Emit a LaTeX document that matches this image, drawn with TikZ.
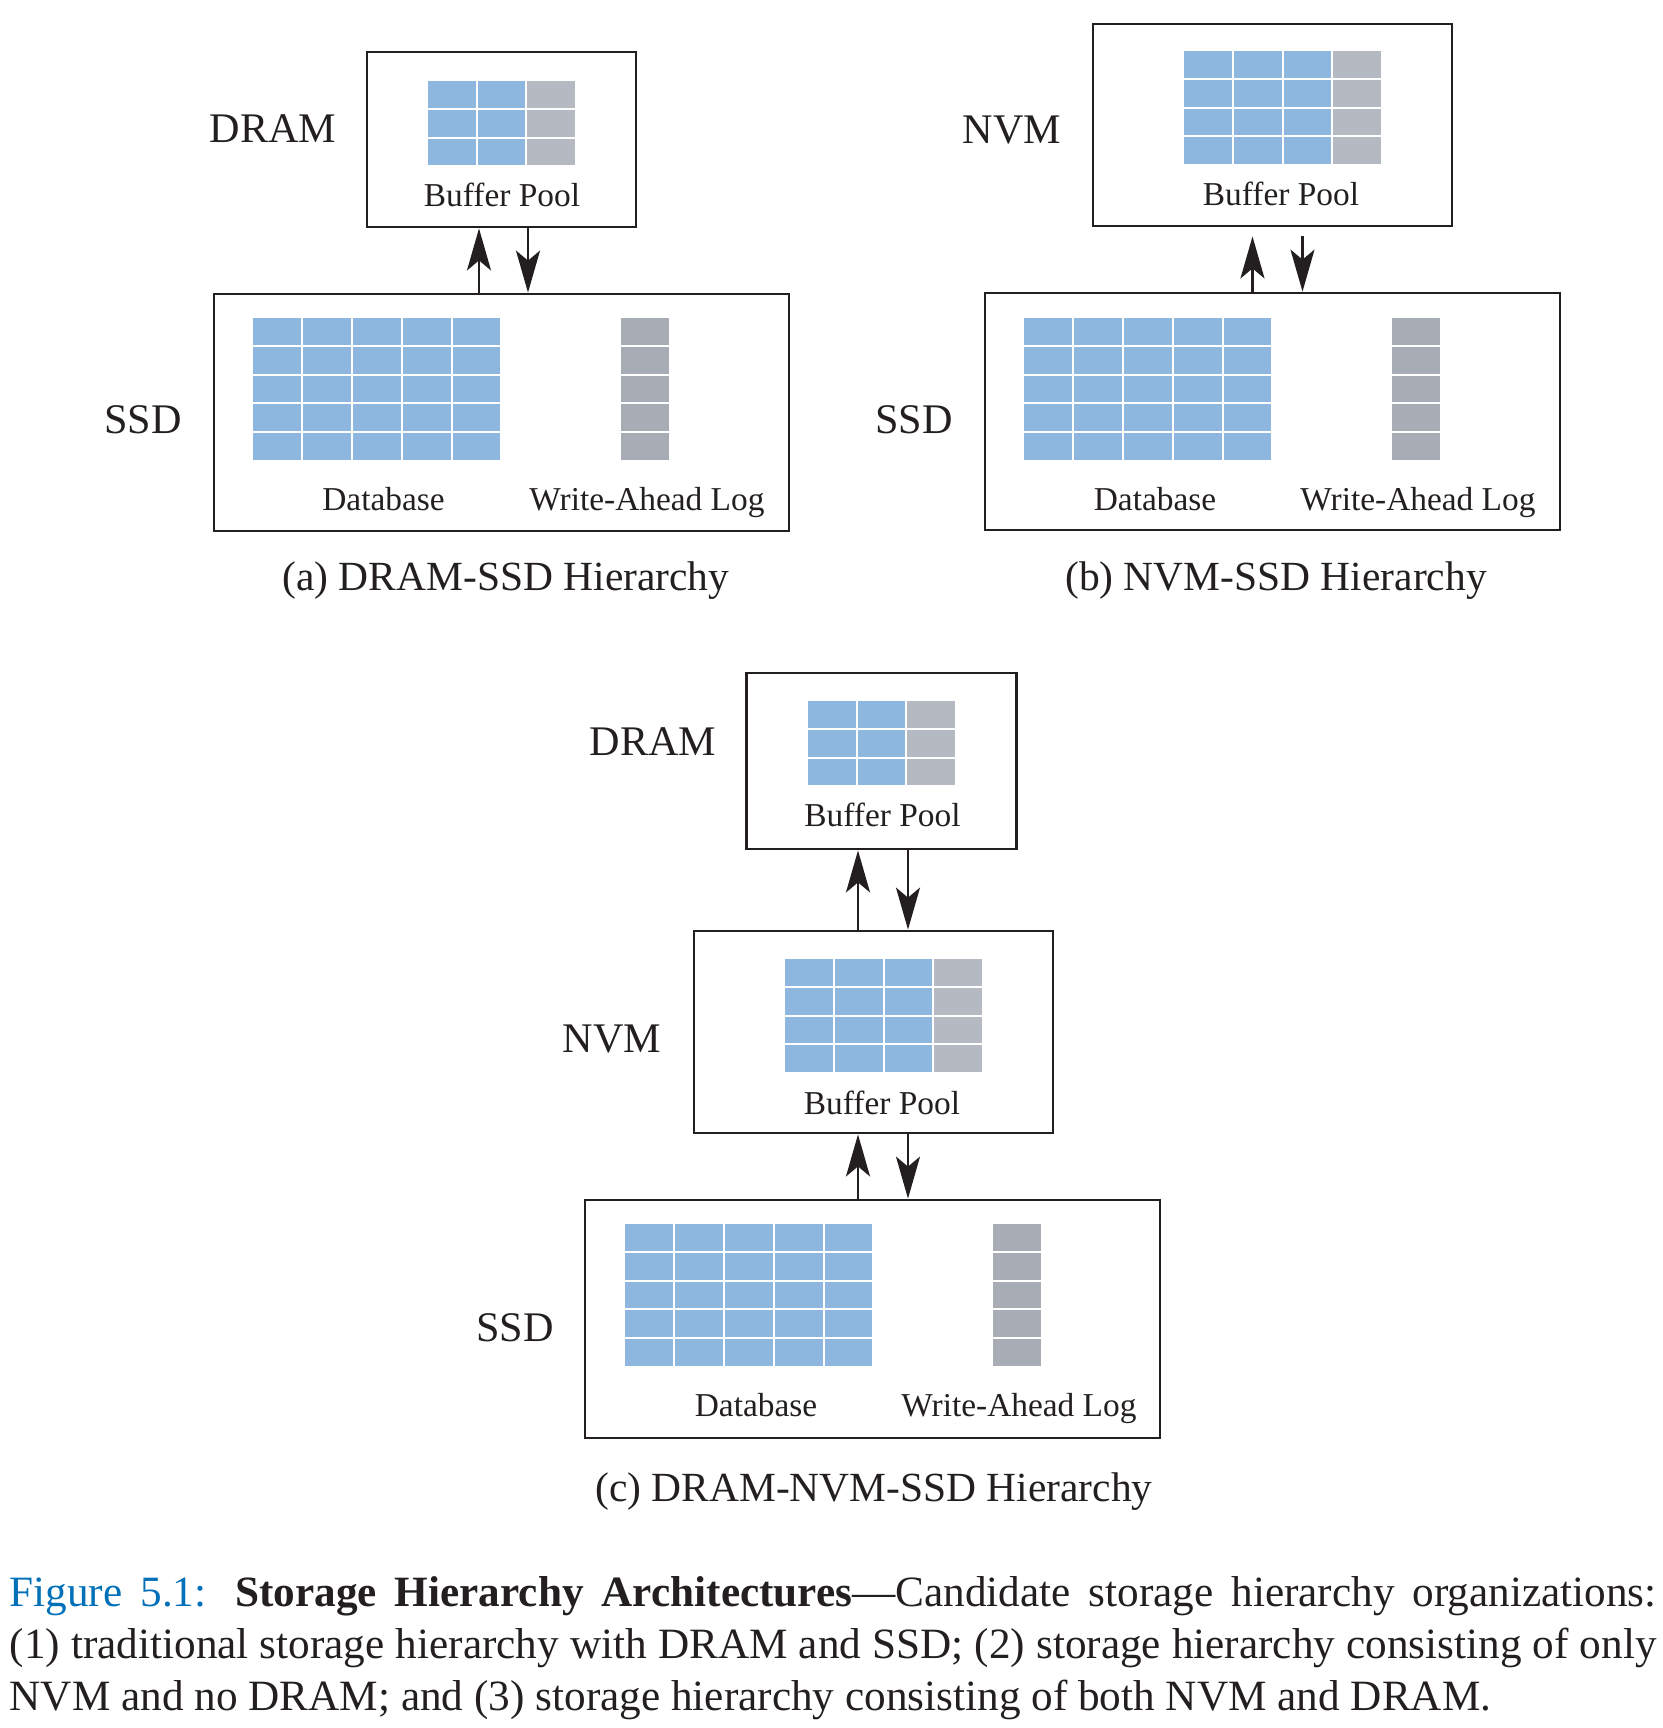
\documentclass[tikz,border=0pt]{standalone}
\usepackage{fontspec}
\setmainfont{Liberation Serif}
\usetikzlibrary{arrows.meta}
\definecolor{hbink}{RGB}{35,31,32}
\definecolor{hbblue}{RGB}{141,183,223}
\definecolor{hbgray}{RGB}{181,186,194}
\definecolor{hbdark}{RGB}{168,172,180}
\definecolor{hbcap}{RGB}{0,112,184}

\begin{document}
\begin{tikzpicture}[
        box/.style={draw=hbink, line width=0.8pt, inner sep=0pt},
        level/.style={font=\fontsize{12}{14}\selectfont, text=hbink, anchor=base, inner sep=0pt},
        part/.style={font=\fontsize{9.5}{11}\selectfont, text=hbink, anchor=base, inner sep=0pt},
        sub/.style={font=\fontsize{11.8}{14}\selectfont, text=hbink, anchor=base, inner sep=0pt},
        cell/.style={draw=white, line width=0.6pt},
        flow/.style={-{Stealth[length=4.2mm, width=2.4mm, inset=1mm]}, line width=0.65pt, draw=hbink}
      ]
      \useasboundingbox (0,0) rectangle (16.63,-17.28);

      % (a) DRAM over SSD
      \node[box, minimum width=2.69cm, minimum height=1.75cm] (dramA) at (5.015,-1.395) {};
      \node[box, minimum width=5.75cm, minimum height=2.37cm] (ssdA) at (5.015,-4.125) {};
      \node[level] (lblDramA) at (2.73,-1.42) {DRAM};
      \node[level] (lblSsdA) at (1.43,-4.33) {SSD};
      \node[part] (bpA) at (5.02,-2.06) {Buffer Pool};
      \node[part] (dbA) at (3.835,-5.10) {Database};
      \node[part] (walA) at (6.47,-5.10) {Write-Ahead Log};
      \node[sub] (capA) at (5.06,-5.90) {(a) DRAM-SSD Hierarchy};
      \coordinate (upA) at ([xshift=-0.225cm]dramA.south);
      \coordinate (dnA) at ([xshift=0.265cm]dramA.south);
      \draw[flow] (upA |- ssdA.north) -- (upA);
      \draw[flow] (dnA) -- (dnA |- ssdA.north);

      % (b) NVM over SSD
      \node[box, minimum width=3.59cm, minimum height=2.02cm] (nvmB) at (12.725,-1.25) {};
      \node[box, minimum width=5.75cm, minimum height=2.37cm] (ssdB) at (12.725,-4.115) {};
      \node[level] (lblNvmB) at (10.12,-1.43) {NVM};
      \node[level] (lblSsdB) at (9.14,-4.33) {SSD};
      \node[part] (bpB) at (12.81,-2.057) {Buffer Pool};
      \node[part] (dbB) at (11.55,-5.10) {Database};
      \node[part] (walB) at (14.18,-5.10) {Write-Ahead Log};
      \node[sub] (capB) at (12.76,-5.90) {(b) NVM-SSD Hierarchy};
      \coordinate (upB) at ([xshift=-0.20cm, yshift=-0.09cm]nvmB.south);
      \coordinate (dnB) at ([xshift=0.30cm, yshift=-0.09cm]nvmB.south);
      \draw[flow] (upB |- ssdB.north) -- (upB);
      \draw[flow] (dnB) -- (dnB |- ssdB.north);

      % (c) DRAM over NVM over SSD
      \node[box, minimum width=2.70cm, minimum height=1.76cm] (dramC) at (8.815,-7.61) {};
      \node[box, minimum width=3.59cm, minimum height=2.02cm] (nvmC) at (8.735,-10.32) {};
      \node[box, minimum width=5.75cm, minimum height=2.38cm] (ssdC) at (8.725,-13.19) {};
      \node[level] (lblDramC) at (6.53,-7.55) {DRAM};
      \node[level] (lblNvmC) at (6.12,-10.52) {NVM};
      \node[level] (lblSsdC) at (5.15,-13.41) {SSD};
      \node[part] (bpC) at (8.825,-8.26) {Buffer Pool};
      \node[part] (bpD) at (8.82,-11.145) {Buffer Pool};
      \node[part] (dbC) at (7.56,-14.16) {Database};
      \node[part] (walC) at (10.19,-14.16) {Write-Ahead Log};
      \node[sub] (capC) at (8.74,-15.01) {(c) DRAM-NVM-SSD Hierarchy};
      \coordinate (upC) at ([xshift=-0.235cm]dramC.south);
      \coordinate (dnC) at ([xshift=0.265cm]dramC.south);
      \draw[flow] (upC |- nvmC.north) -- (upC);
      \draw[flow] (dnC) -- (dnC |- nvmC.north);
      \draw[flow] (upC |- ssdC.north) -- (upC |- nvmC.south);
      \draw[flow] (dnC |- nvmC.south) -- (dnC |- ssdC.north);

      % page grids: left/top, columns, rows, colour
      \foreach \gx/\gy/\nc/\nr/\gc in {
          4.27/0.80/2/3/hbblue, 5.264/0.80/1/3/hbgray, 2.52/3.17/5/5/hbblue, 6.20/3.17/1/5/hbdark,
          11.83/0.50/3/4/hbblue, 13.321/0.50/1/4/hbgray, 10.23/3.17/5/5/hbblue, 13.91/3.17/1/5/hbdark,
          8.07/7.00/2/3/hbblue, 9.064/7.00/1/3/hbgray, 7.84/9.58/3/4/hbblue, 9.331/9.58/1/4/hbgray,
          6.24/12.23/5/5/hbblue, 9.92/12.23/1/5/hbdark}
        \foreach \i in {1,...,\nc}
          \foreach \j in {1,...,\nr}
            \filldraw[cell, fill=\gc] ({\gx+(\i-1)*0.499},{-\gy-(\j-1)*0.288}) rectangle +(0.499,-0.288);

      \node[anchor=north west, inner sep=0pt, text width=16.47cm, align=justify, text=hbink,
            font=\fontsize{12.3}{14.8}\selectfont] (figcap) at (0.09,-15.76)
        {{\color{hbcap}Figure 5.1:} \textbf{Storage Hierarchy Architectures}—Candidate storage hierarchy organizations:\linebreak
         (1) traditional storage hierarchy with DRAM and SSD; (2) storage hierarchy consisting of only\linebreak
         NVM and no DRAM; and (3) storage hierarchy consisting of both NVM and DRAM.};
    \end{tikzpicture}
\end{document}
